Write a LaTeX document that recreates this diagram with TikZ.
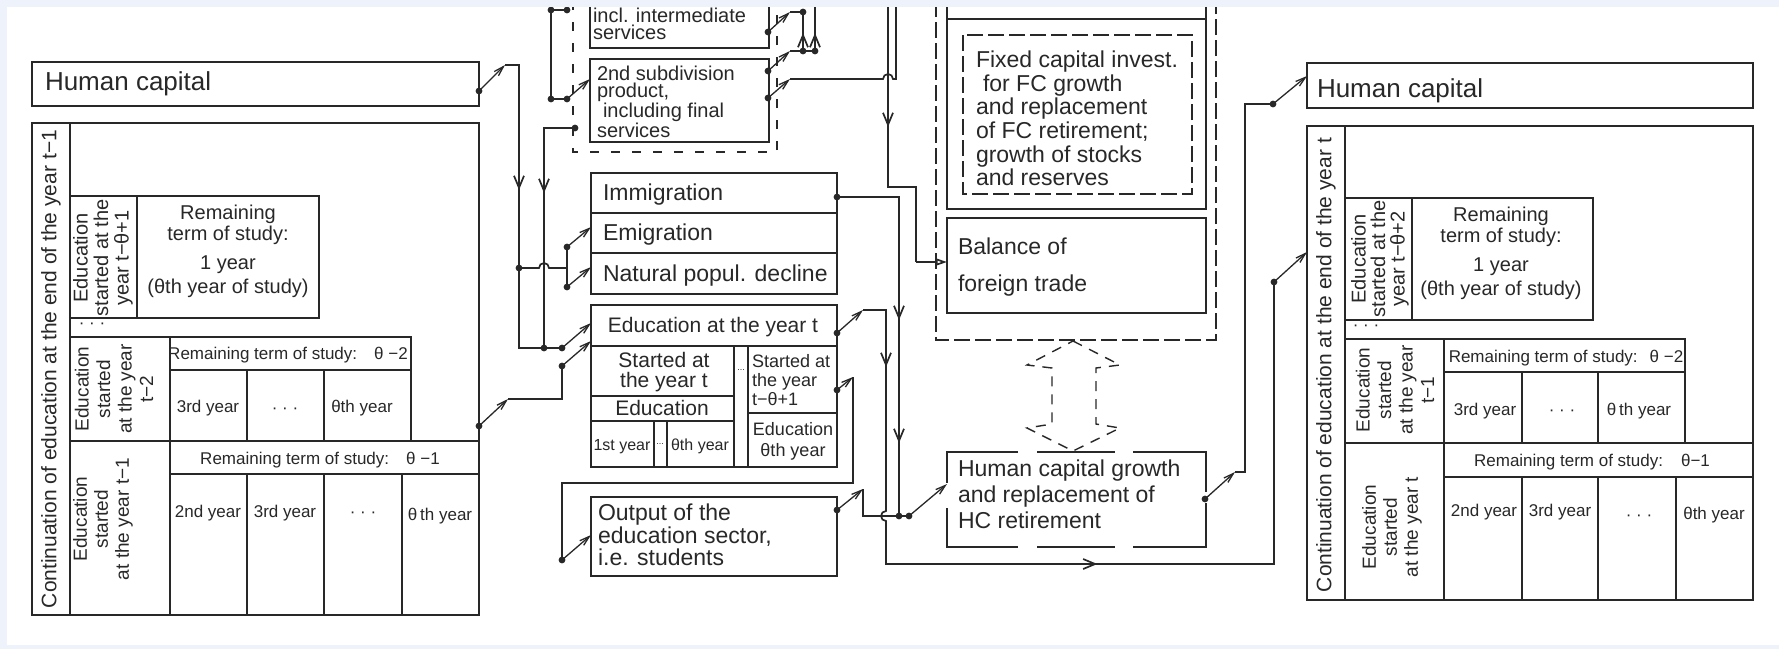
\documentclass[tikz,border=0pt]{standalone}
\usepackage{fontspec}
\setmainfont{Liberation Sans}
\usetikzlibrary{arrows.meta,decorations.markings}
\definecolor{pagetint}{RGB}{238,242,251}
\definecolor{ink}{RGB}{40,40,40}

\tikzset{
  every node/.style={inner sep=0pt,outer sep=0pt},
  box/.style={draw,line width=1.7pt},
  sw/.style={-{Straight Barb[length=10pt,width=6pt]},line width=1.3pt},
  vflow/.style={postaction={decorate},decoration={markings,
    mark=at position #1 with {\arrow{Straight Barb[length=12pt,width=10pt]}}}},
  vflowtwo/.style 2 args={postaction={decorate},decoration={markings,
    mark=at position #1 with {\arrow{Straight Barb[length=12pt,width=10pt]}},
    mark=at position #2 with {\arrow{Straight Barb[length=12pt,width=10pt]}}}},
  grp/.style={dash pattern=on 9pt off 12pt},
  fcgrp/.style={dash pattern=on 16pt off 5pt},
  shaft/.style={dash pattern=on 10pt off 8pt,line width=1.4pt},
  fhead/.style={font=\fontsize{26}{30}\selectfont},
  fbox/.style={font=\fontsize{23}{23}\selectfont},
  flab/.style={font=\fontsize{21}{21}\selectfont},
  fcell/.style={font=\fontsize{17}{19}\selectfont}
}

\newcommand\rbox[6][]{%
  \node[box,#1,minimum width={#5pt-#3pt},minimum height={#6pt-#4pt}] (#2) at ({(#3+#5)/2},{(#4+#6)/2}) {};}
\newcommand\jog[2]{\fill (#1) circle (3.4); \draw[sw] (#1) -- (#2);}
\newcommand\spot[1]{\fill (#1) circle (3.4);}

\begin{document}
\begin{tikzpicture}[x=1pt,y=-1pt,line width=1.7pt,color=ink]
\fill[pagetint] (0,0) rectangle (1779,649);
\fill[white] (7,7) rectangle (1779,645);
\begin{scope}
\clip (7,7) rectangle (1779,645);

% stock at the end of the year t-1
\rbox{hcL}{32}{62}{479}{106}
\node[fhead,anchor=base west] (hcLt) at (45,90) {Human capital};
\rbox{contL}{32}{123}{479}{615}
\draw (70,123) -- (70,615);
\node[flab,rotate=90] (contLt) at (51,369) {Continuation of education at the end of the year t−1};
\rbox{lastL}{70}{196}{319}{318}
\draw (137,196) -- (137,318);
\node[font=\fontsize{20}{20.5}\selectfont,rotate=90,align=center] (lastLl) at (103,258) {Education\\started at the\\year t−θ+1};
\node[font=\fontsize{20}{21}\selectfont,align=center,anchor=north] (lastLt) at (228,205) {Remaining\\term of study:\\[8pt]1 year\\[3pt](θth year of study)};
\node[fcell] (dotsL) at (92,326) {· · ·};
\rbox{twoL}{70}{337}{411}{441}
\draw (170,337) -- (170,441) (170,370) -- (411,370) (247,370) -- (247,441) (324,370) -- (324,441);
\node[font=\fontsize{19}{21.5}\selectfont,rotate=90,align=center] (twoLl) at (114,389) {Education\\started\\at the year\\t−2};
\node[fcell,anchor=base] (twoLh) at (288,359) {Remaining term of study:\hspace{17pt}θ −2};
\node[fcell,anchor=base] (twoLa) at (208,412) {3rd year};
\node[fcell,anchor=base] (twoLb) at (285,413) {· · ·};
\node[fcell,anchor=base] (twoLc) at (362,412) {θth year};
\rbox{oneL}{70}{441}{479}{615}
\draw (170,441) -- (170,615) (170,474) -- (479,474) (247,474) -- (247,615) (324,474) -- (324,615) (402,474) -- (402,615);
\node[font=\fontsize{19}{21}\selectfont,rotate=90,align=center] (oneLl) at (103,519) {Education\\started\\at the year t−1};
\node[fcell,anchor=base] (oneLh) at (320,464) {Remaining term of study:\hspace{17pt}θ −1};
\node[fcell,anchor=base] (oneLa) at (208,517) {2nd year};
\node[fcell,anchor=base] (oneLb) at (285,517) {3rd year};
\node[fcell,anchor=base] (oneLc) at (363,517) {· · ·};
\node[fcell,anchor=base] (oneLd) at (440,520) {θ\,th year};

% stock at the end of the year t
\rbox{hcR}{1307}{63}{1753}{108}
\node[fhead,anchor=base west] (hcRt) at (1317,97) {Human capital};
\rbox{contR}{1307}{126}{1753}{600}
\draw (1345,126) -- (1345,600);
\node[flab,rotate=90] (contRt) at (1326,365) {Continuation of education at the end of the year t};
\rbox{lastR}{1345}{198}{1593}{320}
\draw (1412,198) -- (1412,320);
\node[font=\fontsize{20}{19.5}\selectfont,rotate=90,align=center] (lastRl) at (1380,259) {Education\\started at the\\year t−θ+2};
\node[font=\fontsize{20}{21}\selectfont,align=center,anchor=north] (lastRt) at (1501,207) {Remaining\\term of study:\\[8pt]1 year\\[3pt](θth year of study)};
\node[fcell] (dotsR) at (1366,328) {· · ·};
\rbox{twoR}{1345}{339}{1685}{443}
\draw (1444,339) -- (1444,443) (1444,372) -- (1685,372) (1522,372) -- (1522,443) (1598,372) -- (1598,443);
\node[font=\fontsize{19}{21.5}\selectfont,rotate=90,align=center] (twoRl) at (1395,390) {Education\\started\\at the year\\t−1};
\node[fcell,anchor=base] (twoRh) at (1566,362) {Remaining term of study:\hspace{12pt}θ −2};
\node[fcell,anchor=base] (twoRa) at (1485,415) {3rd year};
\node[fcell,anchor=base] (twoRb) at (1562,415) {· · ·};
\node[fcell,anchor=base] (twoRc) at (1639,415) {θ\,th year};
\rbox{oneR}{1345}{443}{1753}{600}
\draw (1444,443) -- (1444,600) (1444,477) -- (1753,477) (1522,477) -- (1522,600) (1598,477) -- (1598,600) (1676,477) -- (1676,600);
\node[font=\fontsize{19}{21}\selectfont,rotate=90,align=center] (oneRl) at (1392,527) {Education\\started\\at the year t};
\node[fcell,anchor=base] (oneRh) at (1592,466) {Remaining term of study:\hspace{18pt}θ−1};
\node[fcell,anchor=base] (oneRa) at (1484,516) {2nd year};
\node[fcell,anchor=base] (oneRb) at (1560,516) {3rd year};
\node[fcell,anchor=base] (oneRc) at (1639,520) {· · ·};
\node[fcell,anchor=base] (oneRd) at (1714,519) {θth year};

% production group
\draw[grp] (573,-20) rectangle (777,152);
\rbox{incl}{590}{-20}{769}{48}
\node[font=\fontsize{20}{17.5}\selectfont,align=left,anchor=north west] (inclt) at (593,8) {incl. intermediate\\services};
\rbox{subdiv}{590}{59}{769}{142}
\node[font=\fontsize{20}{17.5}\selectfont,align=left,anchor=north west] (subdivt) at (597,66) {2nd subdivision\\product,\\\hspace*{6pt}including final\\services};

% population
\rbox{immig}{591}{173}{837}{213}
\node[fbox,anchor=base west] (immigt) at (603,200) {Immigration};
\rbox{emig}{591}{213}{837}{253}
\node[fbox,anchor=base west] (emigt) at (603,240) {Emigration};
\rbox{decl}{591}{253}{837}{294}
\node[fbox,anchor=base west] (declt) at (603,281) {Natural popul. decline};

% education of the year t
\rbox{eduT}{591}{305}{837}{346}
\node[flab,anchor=base] (eduTt) at (713,332) {Education at the year t};
\rbox{eduTab}{591}{346}{837}{467}
\draw (734,346) -- (734,467) (748,346) -- (748,467) (591,396) -- (734,396) (591,421) -- (734,421)
      (654,421) -- (654,467) (667,421) -- (667,467) (748,413) -- (837,413);
\node[font=\fontsize{21}{20}\selectfont,align=center,anchor=north] (newT) at (664,352) {Started at\\the year t};
\node[flab,anchor=base] (newTe) at (662,415) {Education};
\node[font=\fontsize{16}{16}\selectfont,anchor=base] (newTa) at (622,450) {1st year};
\node[font=\fontsize{9}{9}\selectfont] (newTb) at (660,444) {...};
\node[font=\fontsize{16}{16}\selectfont,anchor=base] (newTc) at (700,450) {θth year};
\node[font=\fontsize{9}{9}\selectfont] (midT) at (741,370) {...};
\node[font=\fontsize{18}{19}\selectfont,align=left,anchor=north west] (oldT) at (752,354) {Started at\\the year\\t−θ+1};
\node[font=\fontsize{18}{21}\selectfont,align=center,anchor=north] (oldTe) at (793,422) {Education\\θth year};
\rbox{output}{591}{497}{837}{576}
\node[font=\fontsize{23}{22.5}\selectfont,align=left,anchor=north west] (outputt) at (598,504) {Output of the\\education sector,\\i.e. students};

% accumulation group
\draw[fcgrp] (936,-20) rectangle (1216,340);
\rbox{prod}{947}{-20}{1206}{19}
\rbox{fixcap}{947}{19}{1206}{209}
\draw[fcgrp] (963,35) rectangle (1192,194);
\node[font=\fontsize{23}{23.6}\selectfont,align=left,anchor=north west] (fixcapt) at (976,51) {Fixed capital invest.\\\hspace*{7pt}for FC growth\\and replacement\\of FC retirement;\\growth of stocks\\and reserves};
\rbox{balance}{947}{218}{1206}{313}
\node[font=\fontsize{23}{37}\selectfont,align=left,anchor=north west] (balancet) at (958,238) {Balance of\\foreign trade};
\rbox[draw=none]{hcg}{947}{452}{1206}{547}
\draw (1018,452) -- (947,452) -- (947,483) (947,508) -- (947,547) -- (1018,547)
      (1037,452) -- (1115,452) (1037,547) -- (1115,547)
      (1133,452) -- (1206,452) -- (1206,492) (1206,503) -- (1206,547) -- (1133,547);
\node[font=\fontsize{23}{26}\selectfont,align=left,anchor=north west] (hcgt) at (958,460) {Human capital growth\\and replacement of\\HC retirement};
\draw[shaft] (1073,341) -- (1120,365) -- (1096,368) -- (1096,424) -- (1120,428) -- (1073,451)
      -- (1027,428) -- (1052,424) -- (1052,368) -- (1027,365) -- cycle;

% connectors
\coordinate (hcLo) at (479,91);   \coordinate (hcLa) at (505,65);
\coordinate (contLo) at (479,426); \coordinate (contLa) at (508,399);
\coordinate (feedA) at (551,10);  \coordinate (feedB) at (567,10);
\coordinate (feedC) at (551,99);  \coordinate (feedD) at (567,99);
\coordinate (subIn) at (590,79);
\coordinate (retA) at (575,128);
\coordinate (inclO) at (768,32);  \coordinate (inclA) at (790,12);
\coordinate (subO) at (768,71);   \coordinate (subA) at (790,51);
\coordinate (subF) at (768,98);   \coordinate (subB) at (790,79);
\coordinate (upA) at (803,12);    \coordinate (upB) at (803,51);  \coordinate (upC) at (815,51);
\coordinate (balIn) at (947,262);
\coordinate (immigO) at (837,197);
\coordinate (popS) at (519,268);
\coordinate (emigS) at (567,247); \coordinate (emigIn) at (591,227);
\coordinate (declS) at (567,287); \coordinate (declIn) at (591,267);
\coordinate (eduS) at (562,348);  \coordinate (eduIn) at (591,323);
\coordinate (eduJ) at (544,348);
\coordinate (tabS) at (562,366);  \coordinate (tabIn) at (591,341);
\coordinate (eduTo) at (837,333); \coordinate (eduTa) at (863,310);
\coordinate (oldTo) at (837,390); \coordinate (oldTa) at (853,377);
\coordinate (outS) at (562,560);  \coordinate (outIn) at (591,535);
\coordinate (outO) at (837,510);  \coordinate (outA) at (863,489);
\coordinate (hcgJ) at (899,516);  \coordinate (hcgS) at (909,516); \coordinate (hcgIn) at (947,484);
\coordinate (hcgO) at (1205,499); \coordinate (hcgA) at (1235,472);
\coordinate (hcRo) at (1273,104); \coordinate (hcRin) at (1307,76);
\coordinate (contRo) at (1274,282); \coordinate (contRin) at (1307,252);

\jog{hcLo}{hcLa}
\draw[vflow=139pt] (hcLa) -- (519,65) -- (519,348) -- (eduS);
\spot{eduJ}
\jog{eduS}{eduIn}
\jog{tabS}{tabIn}
\draw (tabS) -- (562,399) -- (contLa);
\jog{contLo}{contLa}
\draw (feedA) -- (feedB) (feedA) -- (feedC) -- (feedD);
\spot{feedA} \spot{feedB} \spot{feedC}
\jog{feedD}{subIn}
\spot{retA}
\draw[vflow=96pt] (retA) -- (544,128) -- (eduJ);
\spot{popS}
\draw (popS) -- (539,268) arc (180:360:5) -- (567,268);
\draw (emigS) -- (declS);
\jog{emigS}{emigIn}
\jog{declS}{declIn}
\jog{inclO}{inclA}
\draw (inclA) -- (upA);
\spot{upA}
\draw[vflow=18pt] (upB) -- (upA);
\jog{subO}{subA}
\draw (subA) -- (upC);
\spot{upB} \spot{upC}
\draw[vflow=18pt] (upC) -- (815,0);
\jog{subF}{subB}
\draw (subB) -- (883,79) arc (180:360:5) -- (896,79) -- (896,0);
\draw[vflow=127pt] (888,0) -- (888,187) -- (916,187) -- (916,262);
\draw[-{Triangle[open,length=11pt,width=7pt]}] (916,262) -- (balIn);
\spot{immigO}
\draw[vflowtwo={185pt}{308pt}] (immigO) -- (899,197) -- (hcgJ);
\jog{eduTo}{eduTa}
\draw[vflowtwo={80pt}{494pt}] (eduTa) -- (886,310) -- (886,511) arc (270:90:5) -- (886,564) -- (1274,564) -- (contRo);
\jog{contRo}{contRin}
\jog{oldTo}{oldTa}
\draw (oldTa) -- (853,483) -- (562,483) -- (outS);
\jog{outS}{outIn}
\jog{outO}{outA}
\draw (outA) -- (863,516) -- (hcgS);
\spot{hcgJ}
\jog{hcgS}{hcgIn}
\jog{hcgO}{hcgA}
\draw (hcgA) -- (1245,472) -- (1245,104) -- (hcRo);
\jog{hcRo}{hcRin}
\end{scope}
\end{tikzpicture}
\end{document}
